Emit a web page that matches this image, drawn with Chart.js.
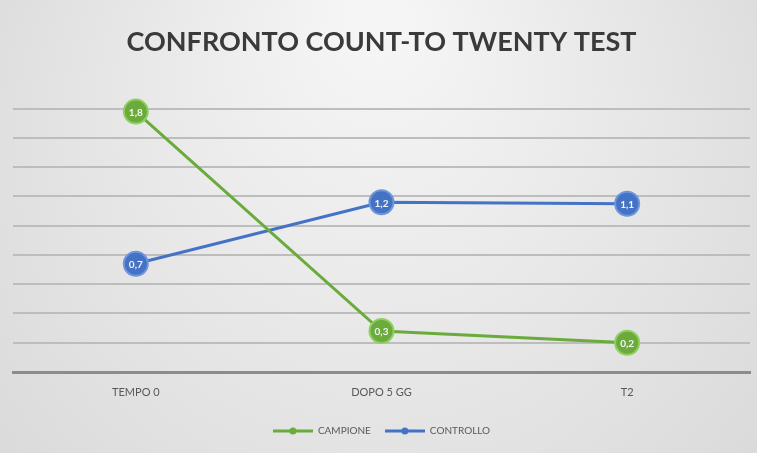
<!DOCTYPE html>
<html>
<head>
<meta charset="utf-8">
<script src="https://cdn.jsdelivr.net/npm/chart.js@4"></script>
<style>
  body { margin: 0; background: #fff; }
  #wrap { width: 757px; height: 453px; }
</style>
</head>
<body>
<div id="wrap"><canvas id="myChart" width="757" height="453"></canvas></div>
<script>
// values
const categories = ['TEMPO 0', 'DOPO 5 GG', 'T2'];
const campione = [1.78, 0.28, 0.2];
const controllo = [0.74, 1.16, 1.15];
const yTicks = [0, 0.2, 0.4, 0.6, 0.8, 1.0, 1.2, 1.4, 1.6, 1.8];

const green = '#6aab3c';
const blue = '#4472c4';

// legend marker: short line with a dot
function legendMarker(color) {
  const c = document.createElement('canvas');
  c.width = 40; c.height = 10;
  const g = c.getContext('2d');
  g.strokeStyle = color;
  g.lineWidth = 3;
  g.beginPath(); g.moveTo(0, 5); g.lineTo(40, 5); g.stroke();
  g.fillStyle = color;
  g.beginPath(); g.arc(20, 5, 3.5, 0, Math.PI * 2); g.fill();
  return c;
}

const background = {
  id: 'background',
  beforeDraw(chart) {
    const { ctx, width, height } = chart;
    ctx.save();
    const grd = ctx.createRadialGradient(width / 2, 20, 30, width / 2, height / 2, width * 0.75);
    grd.addColorStop(0, '#f5f5f5');
    grd.addColorStop(1, '#d4d4d4');
    ctx.fillStyle = grd;
    ctx.fillRect(0, 0, width, height);
    ctx.restore();
  }
};

// value labels inside the markers
const pointLabels = {
  id: 'pointLabels',
  afterDatasetsDraw(chart) {
    const ctx = chart.ctx;
    ctx.save();
    ctx.font = 'bold 10px Lato';
    ctx.fillStyle = '#f4f4f4';
    ctx.textAlign = 'center';
    ctx.textBaseline = 'middle';
    chart.data.datasets.forEach((ds, i) => {
      chart.getDatasetMeta(i).data.forEach((pt, j) => {
        ctx.fillText(ds.data[j].toFixed(1).replace('.', ','), pt.x, pt.y + 1);
      });
    });
    ctx.restore();
  }
};

const ctx = document.getElementById('myChart');

new Chart(ctx, {
  type: 'line',
  data: {
    labels: categories,
    datasets: [
      {
        label: 'CAMPIONE',
        data: campione,
        borderColor: green,
        backgroundColor: green,
        pointBackgroundColor: green,
        pointBorderColor: '#8fcf5f',
        pointBorderWidth: 2,
        borderWidth: 3,
        pointRadius: 12,
        tension: 0
      },
      {
        label: 'CONTROLLO',
        data: controllo,
        borderColor: blue,
        backgroundColor: blue,
        pointBackgroundColor: blue,
        pointBorderColor: '#6f96dc',
        pointBorderWidth: 2,
        borderWidth: 3,
        pointRadius: 12,
        tension: 0
      }
    ]
  },
  options: {
    responsive: false,
    animation: false,
    layout: { autoPadding: false, padding: { left: 13, right: 7, top: 2, bottom: 7 } },
    plugins: {
      title: {
        display: true,
        text: 'CONFRONTO COUNT-TO TWENTY TEST',
        color: '#3a3a3a',
        font: { family: 'Lato', size: 27, weight: 'bold' },
        padding: { top: 24, bottom: 21 }
      },
      legend: {
        position: 'bottom',
        labels: {
          color: '#595959',
          font: { family: 'Lato', size: 10 },
          usePointStyle: true,
          pointStyleWidth: 40,
          padding: 14,
          generateLabels(chart) {
            return chart.data.datasets.map((ds, i) => ({
              text: ds.label,
              fontColor: '#595959',
              pointStyle: legendMarker(ds.borderColor),
              datasetIndex: i,
              lineWidth: 0
            }));
          }
        }
      },
      tooltip: { enabled: false }
    },
    scales: {
      x: {
        offset: true,
        grid: { display: false, drawTicks: false },
        border: { display: true, color: '#8c8c8c', width: 3 },
        ticks: { color: '#595959', font: { family: 'Lato', size: 11 }, padding: 14 },
        afterFit(axis) { axis.height = 40; }
      },
      y: {
        min: 0,
        max: 2.0,
        afterBuildTicks(axis) {
          axis.ticks = yTicks.map(v => ({ value: v }));
        },
        ticks: { display: false },
        border: { display: false },
        grid: { color: '#bdbdbd', lineWidth: 2, drawTicks: false }
      }
    }
  },
  plugins: [background, pointLabels]
});
</script>
</body>
</html>
